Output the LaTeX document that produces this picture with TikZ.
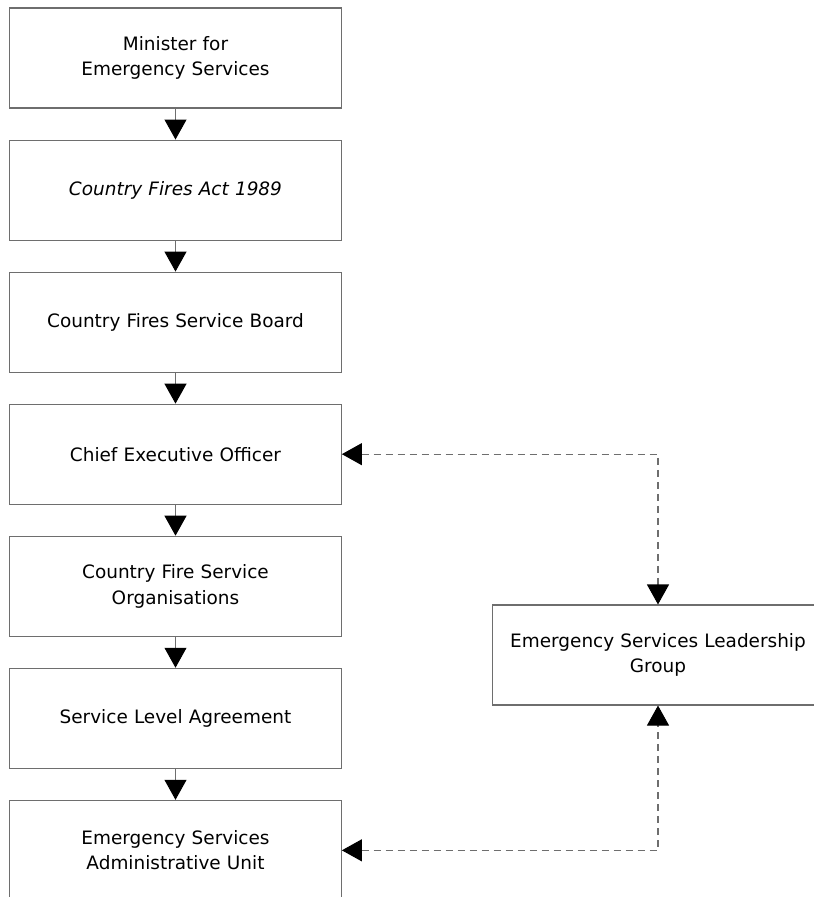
\documentclass[tikz,border=0pt]{standalone}
\usepackage{fontspec}
\setmainfont{DejaVu Sans}
\usetikzlibrary{positioning, arrows.meta}
\definecolor{GrisLinea}{HTML}{6E6E6E}

\begin{document}
\begin{tikzpicture}[
    >={Triangle[length=0.4cm, width=0.44cm, black]}, % punta de flecha negra y llena
    node distance=0.62cm,
    caja/.style={draw=GrisLinea, line width=0.6pt, minimum width=6.62cm, minimum height=2cm,
                 text width=6.4cm, align=center, font=\fontsize{10.5}{14.5}\selectfont},
    flecha/.style={->, draw=GrisLinea, line width=0.6pt},
    enlace/.style={<->, draw=GrisLinea, line width=0.6pt, dash pattern=on 0.14cm off 0.1cm}
]

    % Marco de la figura (la última caja queda cortada abajo)
    \clip (0,0) rectangle (16.28,-17.94);

    % 1. Columna principal
    \node[caja] (ministro) at (3.51,-1.16) {Minister for\\ Emergency Services};
    \node[caja, below=of ministro] (ley) {\textit{Country Fires Act 1989}};
    \node[caja, below=of ley] (junta) {Country Fires Service Board};
    \node[caja, below=of junta] (ceo) {Chief Executive Officer};
    \node[caja, below=of ceo] (orgs) {Country Fire Service\\ Organisations};
    \node[caja, below=of orgs] (acuerdo) {Service Level Agreement};
    \node[caja, below=of acuerdo] (unidad) {Emergency Services\\ Administrative Unit};

    % 2. Flechas entre cajas
    \draw[flecha] (ministro) -- (ley);
    \draw[flecha] (ley) -- (junta);
    \draw[flecha] (junta) -- (ceo);
    \draw[flecha] (ceo) -- (orgs);
    \draw[flecha] (orgs) -- (acuerdo);
    \draw[flecha] (acuerdo) -- (unidad);

    % 3. Grupo lateral
    \node[caja] (grupo) at (13.16,-13.1) {Emergency Services Leadership\\ Group};

    % 4. Enlaces discontinuos con quiebre de 90 grados
    \draw[enlace] (ceo.east) -| (grupo.north);
    \draw[enlace] (unidad.east) -| (grupo.south);

\end{tikzpicture}
\end{document}
